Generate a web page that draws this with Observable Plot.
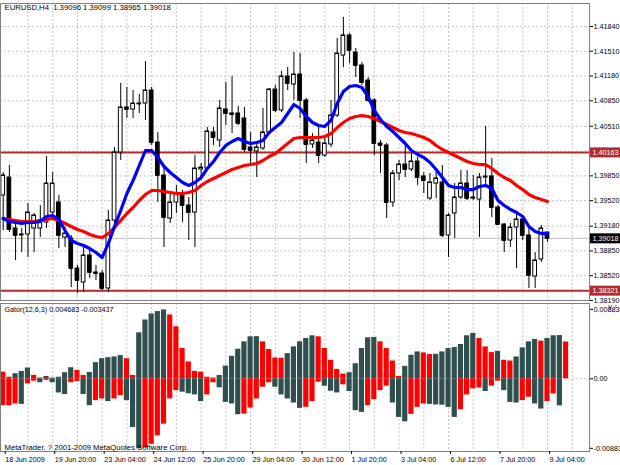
<!DOCTYPE html>
<html><head><meta charset="utf-8">
<script src="https://cdn.jsdelivr.net/npm/d3@7"></script>
<script src="https://cdn.jsdelivr.net/npm/@observablehq/plot@0.6"></script>
<style>
body{margin:0;background:#fff;}
#wrap{position:relative;width:620px;height:465px;overflow:hidden;background:#fff;}
#wrap svg{position:absolute;left:0;overflow:visible;}
</style></head><body><div id="wrap"></div>
<script>
// ---------- data ----------
const headerText = "EURUSD,H4  1.39096 1.39099 1.38965 1.39018";
const gatorHeader = "Gator(12,6,3) 0.004683 -0.003437";
const copyright = "MetaTrader, ? 2001-2009 MetaQuotes Software Corp.";

const open = [1.39588,1.39828,1.39149,1.39069,1.39069,1.39149,1.39149,1.39229,1.39362,1.39495,
1.39029,1.39016,1.38616,1.38430,1.38789,1.38563,1.38549,1.38350,1.39255,1.40161,
1.40761,1.40734,1.40814,1.40814,1.40987,1.40294,1.39855,1.39282,1.39495,1.39588,
1.39455,1.39362,1.39935,1.39948,1.40428,1.40321,1.40734,1.40681,1.40681,1.40614,
1.40228,1.40175,1.40215,1.40428,1.41000,1.40721,1.41174,1.41067,1.41200,1.40854,
1.40268,1.40294,1.40121,1.40268,1.40654,1.41453,1.41720,1.41493,1.41320,1.41120,
1.40854,1.40281,1.40255,1.39495,1.39882,1.40001,1.39935,1.40041,1.39842,1.39548,
1.39748,1.39762,1.39056,1.39349,1.39562,1.39748,1.39548,1.39535,1.39828,1.39842,
1.39429,1.39202,1.38989,1.39162,1.39269,1.39056,1.38509,1.38736,1.39096];
const high = [1.39895,1.39988,1.39215,1.39149,1.39482,1.39349,1.39455,1.40108,1.39895,1.39588,
1.39162,1.39056,1.38656,1.38896,1.38856,1.38656,1.38589,1.39389,1.40228,1.41080,
1.41027,1.40987,1.40934,1.41373,1.41027,1.40428,1.39961,1.39628,1.39722,1.39655,
1.39562,1.40121,1.40015,1.40494,1.40494,1.40854,1.41094,1.41174,1.40774,1.40761,
1.40428,1.40294,1.40747,1.41014,1.41054,1.41240,1.41294,1.41493,1.41480,1.40881,
1.40414,1.40494,1.40388,1.40854,1.41680,1.41960,1.41746,1.41547,1.41360,1.41160,
1.40881,1.40321,1.40281,1.39921,1.40055,1.40281,1.40161,1.40095,1.39895,1.39882,
1.39921,1.39988,1.39349,1.39748,1.39921,1.39921,1.39855,1.39882,1.40508,1.40081,
1.39455,1.39215,1.39215,1.39349,1.39322,1.39162,1.38829,1.39189,1.39099];
const low = [1.39122,1.39096,1.38723,1.38829,1.38763,1.38829,1.39029,1.39149,1.39282,1.38882,
1.38896,1.38363,1.38283,1.38296,1.38483,1.38456,1.38323,1.38296,1.39122,1.40055,
1.40614,1.40614,1.40681,1.40588,1.40255,1.39495,1.38896,1.39215,1.39349,1.39229,
1.38989,1.38896,1.39788,1.39921,1.40255,1.40228,1.40521,1.40414,1.40521,1.40161,
1.40015,1.39828,1.40188,1.40414,1.40694,1.40694,1.40987,1.40854,1.40614,1.40015,
1.40215,1.40015,1.40095,1.40228,1.40627,1.41294,1.41347,1.41160,1.41054,1.40827,
1.40121,1.39882,1.39282,1.39429,1.39788,1.39828,1.39908,1.39722,1.39615,1.39522,
1.39548,1.39029,1.38763,1.39016,1.39535,1.39522,1.39522,1.39029,1.39722,1.39295,
1.39189,1.38829,1.38896,1.38616,1.38989,1.38350,1.38350,1.38696,1.38965];
const close = [1.39855,1.39136,1.39056,1.39062,1.39362,1.39322,1.39255,1.39748,1.39748,1.39056,
1.39082,1.38616,1.38456,1.38789,1.38563,1.38549,1.38350,1.39255,1.40161,1.40761,
1.40734,1.40814,1.40808,1.40987,1.40294,1.39855,1.39295,1.39495,1.39615,1.39455,
1.39362,1.39948,1.39961,1.40441,1.40361,1.40747,1.40681,1.40667,1.40548,1.40201,
1.40188,1.40228,1.40428,1.41000,1.40721,1.41174,1.41080,1.41200,1.40854,1.40268,
1.40321,1.40121,1.40281,1.40654,1.41480,1.41720,1.41520,1.41320,1.41094,1.40854,
1.40281,1.40255,1.39495,1.39882,1.40001,1.39935,1.40041,1.39828,1.39788,1.39762,
1.39815,1.39056,1.39322,1.39562,1.39748,1.39548,1.39562,1.39828,1.39842,1.39429,
1.39202,1.38989,1.39162,1.39269,1.39056,1.38523,1.38723,1.39149,1.39018];

const maFast = [1.39282,1.39242,1.39229,1.39215,1.39229,1.39229,1.39242,1.39309,1.39322,1.39269,
1.39122,1.38989,1.38949,1.38922,1.38882,1.38829,1.38763,1.38949,1.39175,1.39389,
1.39615,1.39788,1.39988,1.40188,1.40188,1.40095,1.39975,1.39895,1.39828,1.39762,
1.39722,1.39762,1.39828,1.39948,1.40041,1.40161,1.40255,1.40308,1.40348,1.40308,
1.40281,1.40294,1.40321,1.40428,1.40494,1.40561,1.40681,1.40801,1.40747,1.40641,
1.40561,1.40521,1.40508,1.40588,1.40814,1.40974,1.41040,1.41054,1.41027,1.40907,
1.40721,1.40601,1.40508,1.40441,1.40361,1.40281,1.40188,1.40135,1.40095,1.40028,
1.39935,1.39828,1.39722,1.39695,1.39695,1.39668,1.39668,1.39708,1.39722,1.39682,
1.39522,1.39455,1.39402,1.39362,1.39309,1.39175,1.39109,1.39082,1.39082];
const maSlow = [1.39282,1.39269,1.39255,1.39242,1.39242,1.39242,1.39255,1.39269,1.39282,1.39255,
1.39215,1.39175,1.39136,1.39109,1.39069,1.39042,1.39029,1.39082,1.39162,1.39255,
1.39349,1.39429,1.39522,1.39602,1.39655,1.39655,1.39642,1.39628,1.39615,1.39615,
1.39628,1.39655,1.39722,1.39775,1.39815,1.39855,1.39895,1.39935,1.39961,1.39988,
1.40001,1.40015,1.40055,1.40108,1.40148,1.40215,1.40281,1.40348,1.40361,1.40361,
1.40361,1.40361,1.40374,1.40414,1.40494,1.40561,1.40614,1.40641,1.40654,1.40641,
1.40614,1.40574,1.40534,1.40494,1.40454,1.40428,1.40414,1.40388,1.40361,1.40321,
1.40255,1.40201,1.40161,1.40121,1.40081,1.40041,1.40015,1.40001,1.40001,1.39948,
1.39882,1.39828,1.39788,1.39722,1.39668,1.39602,1.39562,1.39535,1.39509];

const gatorUp = [0.00085,0.0002,0.00064,0.00094,0.00137,0.00043,0.0001,0.0003,0.0001,0.0002,
0.00077,0.00141,0.00107,0.00043,0.00081,0.00205,0.00256,0.00269,0.00278,0.00295,
0.00256,0.00043,0.00585,0.00748,0.00825,0.00855,0.00876,0.00812,0.00662,0.00385,
0.00214,0.00094,0.00085,0.0002,0.0001,0.00043,0.00162,0.00286,0.00376,0.0047,
0.00534,0.00536,0.0047,0.00372,0.00265,0.00262,0.0032,0.00406,0.0047,0.00513,
0.00547,0.00534,0.00385,0.00235,0.0012,0.0006,0.00077,0.00192,0.00385,0.00521,
0.00526,0.0047,0.00385,0.00226,0.0003,0.00158,0.00299,0.00342,0.00329,0.00308,
0.00312,0.00342,0.00385,0.00397,0.00436,0.00547,0.00577,0.00513,0.00406,0.00333,
0.0035,0.00235,0.00226,0.00278,0.00393,0.0047,0.005,0.00479,0.00513,0.00547,
0.0055,0.004683];
const gatorDown = [-0.00342,-0.00342,-0.0032,-0.00325,-0.00064,-0.0003,-0.0005,-0.0002,-0.0005,-0.0018,
-0.002,-0.0005,-0.00034,-0.002,-0.00342,-0.00278,-0.00256,-0.0029,-0.00256,-0.00214,
-0.00278,-0.0062,-0.0089,-0.0088,-0.00833,-0.00726,-0.00577,-0.00256,-0.0015,-0.0017,
-0.0019,-0.00205,-0.0029,-0.00205,-0.0005,-0.00115,-0.003,-0.0032,-0.00457,-0.00449,
-0.00372,-0.00256,-0.00107,-0.0005,-0.00107,-0.00205,-0.00256,-0.00308,-0.00376,-0.00363,
-0.0029,-0.00043,-0.00094,-0.00158,-0.0018,-0.00077,-0.00162,-0.00406,-0.00427,-0.00342,
-0.00265,-0.0015,-0.00094,-0.00308,-0.00491,-0.00547,-0.00453,-0.00363,-0.0032,-0.00325,
-0.00333,-0.00336,-0.00363,-0.00491,-0.00393,-0.00205,-0.00128,-0.00115,-0.00162,-0.00094,
-0.0003,-0.0015,-0.003,-0.00308,-0.00278,-0.00235,-0.0032,-0.00385,-0.0029,-0.00192,
-0.003437];

const priceTicks = [1.4184,1.4151,1.4118,1.4085,1.4051,1.4018,1.3985,1.3952,1.3918,1.3885,1.3852,1.3819];
const levelLines = [1.40163, 1.38321];
const bidPrice = 1.39018;
const priceBoxes = [{price:1.40163, bg:"#b02c2c"},{price:1.39018, bg:"#000000"},{price:1.38321, bg:"#b02c2c"}];
const dateTicks = [0,8,16,24,32,40,48,56,64,72,80,88];
const dateLabels = ["18 Jun 2009","19 Jun 20:00","23 Jun 04:00","24 Jun 12:00","25 Jun 20:00","29 Jun 04:00","30 Jun 12:00","1 Jul 20:00","3 Jul 04:00","6 Jul 12:00","7 Jul 20:00","9 Jul 04:00"];
const gridIdx = d3.range(4, 93, 4);
const gatorTicks = [0.008838, 0, -0.008838];
const gatorTickLabels = ["0.008838","0.00","-0.008838"];

// ---------- build ----------
const FONT = "'Liberation Sans', Arial, sans-serif";
const FS = 7.2, FH = 7.7;
const DARK = "#2f4f4f", RED = "#ff0000";
const xDomain = [-0.4365, 94.79];
const plotRight = 589;
const idxAt = px => xDomain[0] + px * (xDomain[1] - xDomain[0]) / plotRight;

const candles = open.map((o, i) => ({i, open: o, high: high[i], low: low[i], close: close[i]}));
const fast = maFast.map((v, i) => ({i, v}));
const slow = maSlow.map((v, i) => ({i, v}));
const up = gatorUp.map((v, i) => ({i, v, c: i > 0 && v > gatorUp[i-1] ? DARK : RED}));
const down = gatorDown.map((v, i) => ({i, v, c: i > 0 && Math.abs(v) > Math.abs(gatorDown[i-1]) ? DARK : RED}));
const dateMap = new Map(dateTicks.map((d, k) => [d, dateLabels[k]]));
const gMap = new Map(gatorTicks.map((d, k) => [d, gatorTickLabels[k]]));
const grid = {stroke: "#c4c4c4", strokeDasharray: "2,2"};
const style = {fontFamily: FONT, fontSize: FS + "px", color: "#000", background: "transparent", overflow: "visible"};

const main = Plot.plot({
  width: 620, height: 302,
  marginLeft: 0, marginRight: 31, marginTop: 3, marginBottom: 2,
  x: {domain: xDomain, axis: null},
  y: {domain: [1.3819, 1.42146], axis: null},
  style,
  marks: [
    Plot.ruleY(priceTicks, grid),
    Plot.ruleX(gridIdx, grid),
    Plot.ruleY([bidPrice], {stroke: "#c0c0c0"}),
    Plot.ruleY(levelLines, {stroke: "#b02c2c", strokeWidth: 2}),
    Plot.ruleX(candles, {x: "i", y1: "low", y2: "high", stroke: "#000"}),
    Plot.rect(candles, {x1: d => d.i - 0.3, x2: d => d.i + 0.3, y1: "open", y2: "close",
      fill: d => d.close >= d.open ? "#fff" : "#000", stroke: "#000"}),
    Plot.ruleY(candles, {y: "close", x1: d => d.i - 0.3, x2: d => d.i + 0.3, stroke: "#000"}),
    Plot.line(slow, {x: "i", y: "v", stroke: "#ff0000", strokeWidth: 3.2}),
    Plot.line(fast, {x: "i", y: "v", stroke: "#0000ff", strokeWidth: 3.2}),
    Plot.frame({stroke: "#808080"}),
    Plot.axisY(priceTicks, {anchor: "right", tickSize: 3, tickPadding: 1, tickFormat: d3.format(".5f"), fontSize: FS}),
    Plot.ruleY(priceBoxes, {y: "price", x1: idxAt(590), x2: idxAt(620), stroke: "bg", strokeWidth: 10}),
    Plot.text(priceBoxes, {y: "price", x: idxAt(592), text: d => d3.format(".5f")(d.price), fill: "#fff", textAnchor: "start", fontSize: FS}),
    Plot.text([headerText], {frameAnchor: "top-left", dx: 4, dy: 1, textAnchor: "start", lineAnchor: "top", fontSize: FH})
  ]
});
main.style.top = "0px";

const gator = Plot.plot({
  width: 620, height: 165,
  marginLeft: 0, marginRight: 31, marginTop: 3, marginBottom: 14,
  x: {domain: xDomain, axis: null},
  y: {domain: [-0.009245, 0.009575], axis: null},
  style,
  marks: [
    Plot.ruleX(gridIdx, grid),
    Plot.ruleY([0], grid),
    Plot.rect(up, {x1: d => d.i - 0.42, x2: d => d.i + 0.42, y1: 0, y2: "v", fill: "c"}),
    Plot.rect(down, {x1: d => d.i - 0.42, x2: d => d.i + 0.42, y1: 0, y2: "v", fill: "c"}),
    Plot.frame({stroke: "#808080"}),
    Plot.axisY(gatorTicks, {anchor: "right", tickSize: 3, tickPadding: 1, tickFormat: d => gMap.get(d), fontSize: FS}),
    Plot.axisX(dateTicks, {anchor: "bottom", tickSize: 3, tickPadding: 2, textAnchor: "start", dx: 2, tickFormat: d => dateMap.get(d), fontSize: FS}),
    Plot.text([gatorHeader], {frameAnchor: "top-left", dx: 4, dy: 3, textAnchor: "start", lineAnchor: "top", fontSize: FS}),
    Plot.text([copyright], {frameAnchor: "bottom-left", dx: 4, dy: -2, textAnchor: "start", lineAnchor: "bottom", fontSize: FH})
  ]
});
gator.style.top = "300px";

const wrap = document.getElementById("wrap");
wrap.append(main, gator);
</script>
</body></html>
